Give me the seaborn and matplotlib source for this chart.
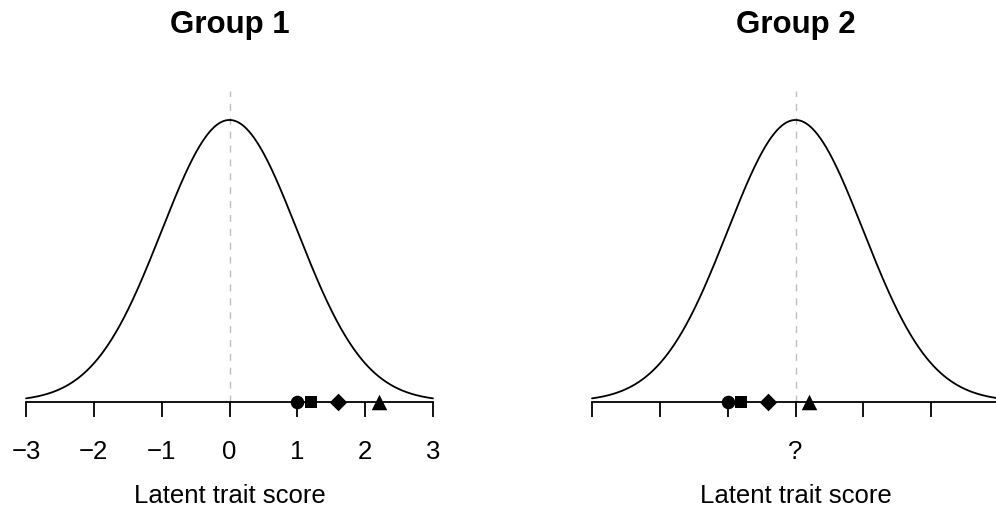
import numpy as np
import pandas as pd
import matplotlib
matplotlib.use("Agg")
import matplotlib.pyplot as plt
import seaborn as sns

# Item locations on the latent trait for each group
markers = ["o", "s", "D", "^"]
marker_sizes = [95, 70, 80, 125]
group1_locs = [1.0, 1.2, 1.6, 2.2]
group2_locs = [-1.0, -0.8, -0.4, 0.2]
titles = ["Group 1", "Group 2"]
tick_values = [-3, -2, -1, 0, 1, 2, 3]
group1_ticklabels = ["\u22123", "\u22122", "\u22121", "0", "1", "2", "3"]
group2_ticklabels = ["", "", "", "?", "", "", ""]

sns.set_theme(style="white")
plt.rcParams["font.family"] = ["Liberation Sans", "DejaVu Sans"]

W, H = 996, 508
fig = plt.figure(figsize=(W / 100, H / 100), dpi=100)

# standard normal density curve of the latent trait
grid = np.linspace(-3, 3, 601)
curve = pd.DataFrame({"theta": grid,
                      "density": np.exp(-grid ** 2 / 2) / np.sqrt(2 * np.pi)})

y_base, y_top = 401.5, 91
panels = [(26, group1_locs, group1_ticklabels, titles[0]),
          (592, group2_locs, group2_ticklabels, titles[1])]
width_px = 407

for left_px, locs, ticklabels, title in panels:
    ax = fig.add_axes([left_px / W, (H - y_base) / H, width_px / W, (y_base - y_top) / H])
    ax.set_xlim(-3, 3)
    ax.set_ylim(0, 0.44)
    ax.axvline(0, color="#BEBEBE", lw=1.0, dashes=(5, 5), zorder=1)
    sns.lineplot(data=curve, x="theta", y="density", color="black", lw=1.3,
                 ax=ax, zorder=2, clip_on=False)
    for loc, m, s in zip(locs, markers, marker_sizes):
        sns.scatterplot(x=[loc], y=[0.0], marker=m, s=s, color="black",
                        edgecolor="black", linewidth=0, ax=ax, zorder=5, clip_on=False)
    for side in ["left", "top", "right"]:
        ax.spines[side].set_visible(False)
    ax.spines["bottom"].set_color("black")
    ax.spines["bottom"].set_linewidth(1.3)
    ax.spines["bottom"].set_zorder(3)
    ax.set_yticks([])
    ax.set_xticks(tick_values)
    ax.set_xticklabels(ticklabels)
    ax.tick_params(axis="x", direction="out", length=11, width=1.3, color="black",
                   pad=16.5, labelsize=18.5, labelcolor="black", bottom=True)
    ax.set_xlabel("")
    ax.set_ylabel("")
    ax.set_facecolor("none")
    cx = (left_px + 204) / W
    fig.text(cx, 1 - 33 / H, title, ha="center", va="baseline",
             fontsize=22.5, fontweight="bold", color="black")
    fig.text(cx, 1 - 503 / H, "Latent trait score", ha="center", va="baseline",
             fontsize=18.5, color="black")

fig.savefig("out.png", dpi=100)
